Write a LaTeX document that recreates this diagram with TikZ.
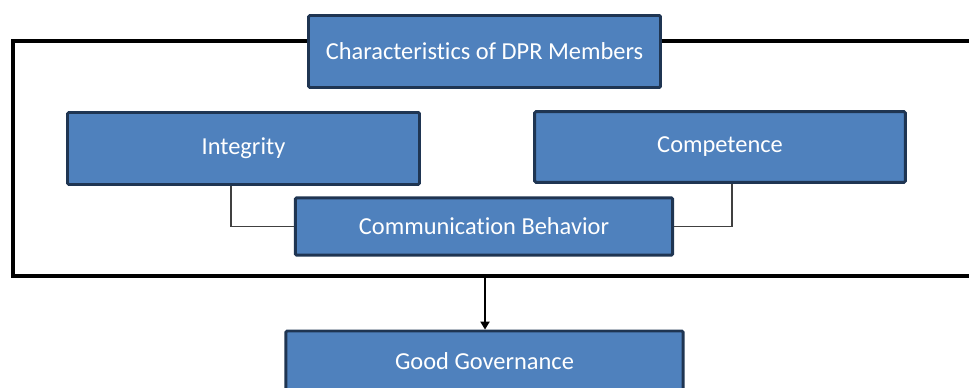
\documentclass[tikz,border=0pt]{standalone}
\usepackage{fontspec}
\setmainfont{Carlito}[Ligatures=NoCommon]
\usetikzlibrary{arrows.meta,positioning}

\definecolor{boxfill}{HTML}{4F81BD}
\definecolor{boxline}{HTML}{1F3552}

\begin{document}
\begin{tikzpicture}[
		x=0.75pt, y=-0.75pt,
		>=Triangle,
		box/.style={
			draw=boxline,
			fill=boxfill,
			line width=2.2pt,
			rounded corners=1pt,
			text=white,
			font=\fontsize{18.3}{21}\selectfont,
			inner sep=0pt,
			align=center
		},
		link/.style={draw=black!75, line width=0.8pt}
		]
		\clip (0,0) rectangle (969,388);
		\useasboundingbox (0,0) rectangle (969,388);
		
		% outer frame, open on the right
		\coordinate (fl) at (13,41);
		\coordinate (fb) at (13,276);
		\draw[line width=2.4pt] (980,41) -- (fl) -- (fb) -- (980,276);
		
		% title on the frame
		\node[box, minimum width=264pt, minimum height=54pt] (title) at (484.5,51.5) {Characteristics of DPR Members};
		
		% the three characteristics
		\node[box, minimum width=264pt, minimum height=54pt] (integ) at (243.5,148.5) {Integrity};
		\node[box, minimum width=278pt, minimum height=53pt] (comp) at (720,147) {Competence};
		\node[box, minimum width=283pt, minimum height=43pt] (comm) at (484,226.5) {Communication Behavior};
		
		% result below the frame
		\node[box, minimum width=298pt, minimum height=45pt] (gov) at (484.5,361) {Good Governance};
		
		% links into communication behavior
		\draw[link] (integ.south -| 231,0) |- (comm.west);
		\draw[link] (comp.south -| 732,0) |- (comm.east);
		
		% arrow from frame to good governance
		\coordinate (fout) at (485,276);
		\draw[->, line width=0.9pt, >={Triangle[length=6pt,width=7pt]}] (fout) -- (gov.north -| fout);
		
		\end{tikzpicture}
\end{document}
